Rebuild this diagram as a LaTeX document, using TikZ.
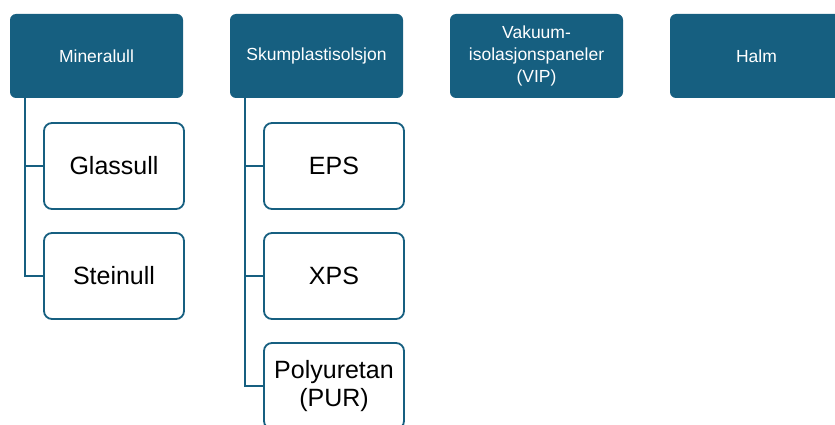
\documentclass[tikz,border=0pt]{standalone}
\usepackage{fontspec}
\setmainfont{Liberation Sans}
\definecolor{teal1}{HTML}{165F80}
\begin{document}
\begin{tikzpicture}[x=1pt,y=-1pt,
  topbox/.style={draw=none,fill=teal1,rounded corners=6pt,text=white,minimum width=173pt,minimum height=84pt,inner sep=0pt,align=center,font=\fontsize{17.5}{21.7}\selectfont},
  childbox/.style={draw=teal1,line width=1.8pt,fill=white,rounded corners=8pt,text=black,minimum width=140pt,minimum height=86pt,inner sep=0pt,align=center,font=\fontsize{25}{28}\selectfont},
  conn/.style={draw=teal1,line width=1.8pt}]
\useasboundingbox (0,0) rectangle (835,425);
\clip (0,0) rectangle (835,425);
\node[topbox] (min) at (96.5,56) {Mineralull};
\node[topbox] (sku) at (316.5,56) {Skumplastisolsjon};
\node[topbox] (vak) at (536.5,56) {Vakuum-\\isolasjonspaneler\\(VIP)};
\node[topbox] (hal) at (756.5,56) {Halm};
\node[childbox] (gla) at (114,166) {Glassull};
\node[childbox] (ste) at (114,276) {Steinull};
\node[childbox] (eps) at (334,166) {EPS};
\node[childbox] (xps) at (334,276) {XPS};
\node[childbox] (pur) at (334,386) {Polyuretan\\(PUR)};
\coordinate (m0) at ([xshift=15pt]min.south west);
\coordinate (s0) at ([xshift=15pt]sku.south west);
\draw[conn] (m0) |- (gla.west);
\draw[conn] (m0) |- (ste.west);
\draw[conn] (s0) |- (eps.west);
\draw[conn] (s0) |- (xps.west);
\draw[conn] (s0) |- (pur.west);
\end{tikzpicture}
\end{document}
